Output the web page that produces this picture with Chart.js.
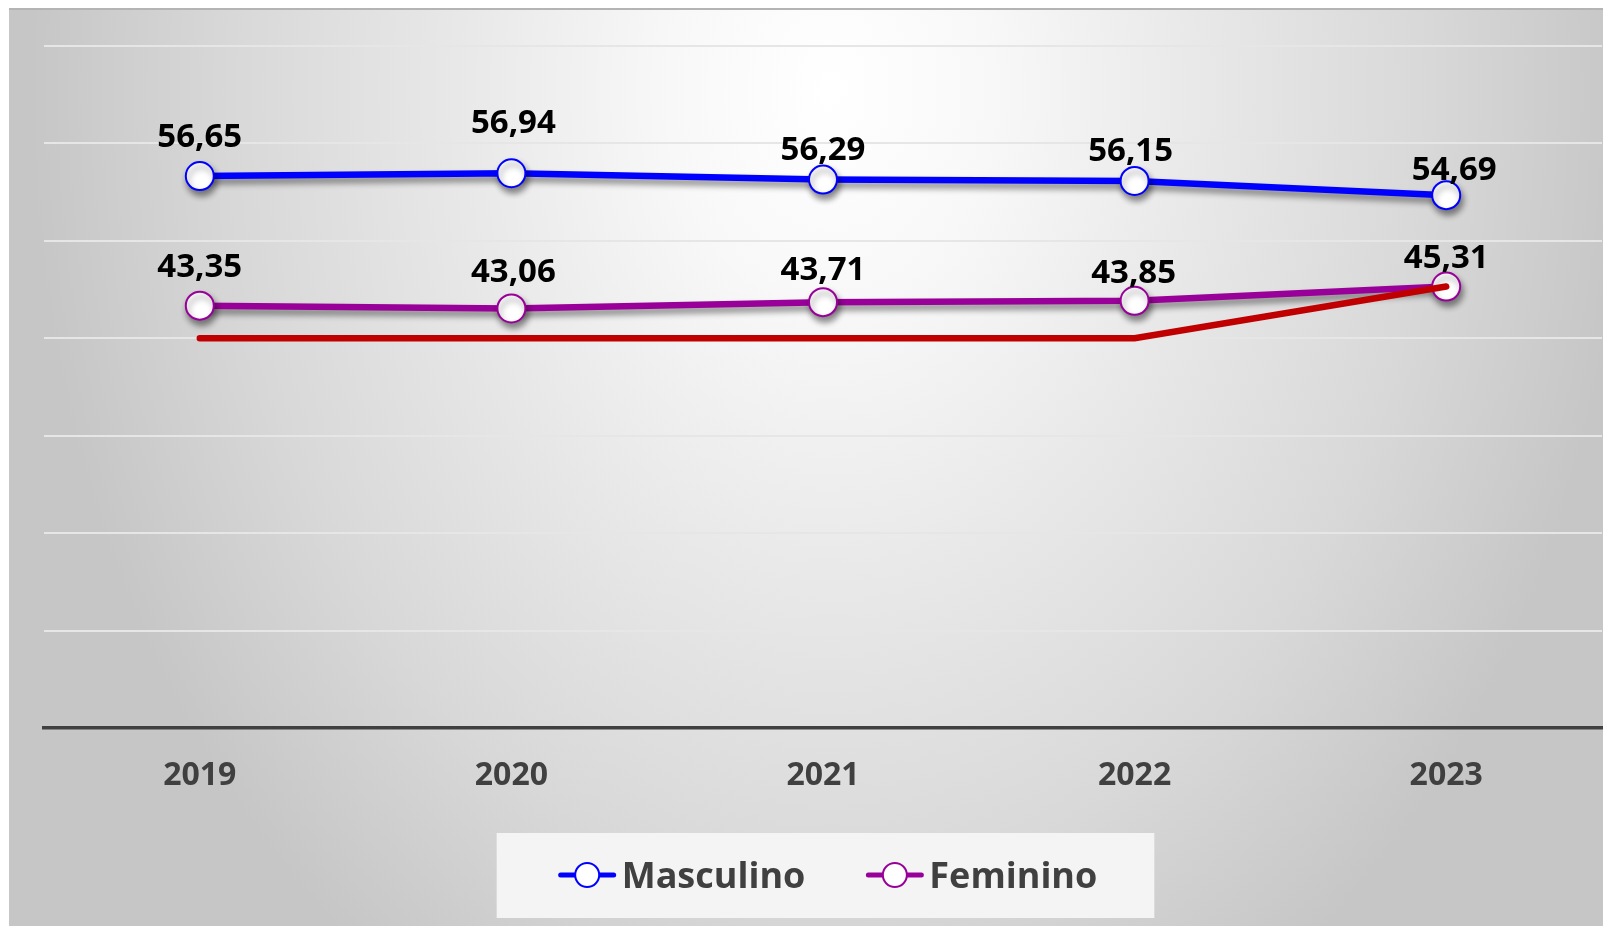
<!DOCTYPE html>
<html>
<head>
<meta charset="utf-8">
<script src="https://cdn.jsdelivr.net/npm/chart.js@4.4.1/dist/chart.umd.min.js"></script>
<style>
  html, body { margin: 0; padding: 0; background: #fff; }
  canvas { display: block; }
</style>
</head>
<body>
<canvas id="grafico" width="1603" height="926"></canvas>
<script>
// dados
const anos = ['2019', '2020', '2021', '2022', '2023'];
const masculino = [56.65, 56.94, 56.29, 56.15, 54.69];
const feminino = [43.35, 43.06, 43.71, 43.85, 45.31];
const linhaVermelha = [40, 40, 40, 40, 45.31];
const escalaY = { min: 0, max: 70, passo: 10 };

const FONTE = '"Open Sans", "Noto Sans", sans-serif';
const fmt = v => v.toFixed(2).replace('.', ',');

// fundo cinza com degrade radial
const fundoPlugin = {
    id: 'fundo',
    beforeDraw(chart) {
        const { ctx, width, height } = chart;
        ctx.save();
        ctx.fillStyle = '#ffffff';
        ctx.fillRect(0, 0, width, height);
        ctx.beginPath();
        ctx.rect(9, 8, width - 9, height - 8);
        ctx.clip();
        const cx = 830, cy = 90, s = 1.333;
        ctx.translate(cx, cy);
        ctx.scale(1, s);
        const g = ctx.createRadialGradient(0, 0, 0, 0, 0, 800);
        g.addColorStop(0, '#ffffff');
        g.addColorStop(0.2, '#f8f8f8');
        g.addColorStop(0.45, '#e9e9e9');
        g.addColorStop(0.75, '#d8d8d8');
        g.addColorStop(1, '#c6c6c6');
        ctx.fillStyle = g;
        ctx.fillRect(9 - cx, (8 - cy) / s, width, height / s);
        ctx.restore();

        ctx.save();
        ctx.strokeStyle = '#b4b4b4';
        ctx.lineWidth = 2;
        ctx.beginPath();
        ctx.moveTo(9, 9);
        ctx.lineTo(width, 9);
        ctx.stroke();
        ctx.restore();
    }
};

// sombra nas linhas
const sombraPlugin = {
    id: 'sombra',
    beforeDatasetDraw(chart, args) {
        const ds = chart.data.datasets[args.index];
        if (!ds.sombra) return;
        const ctx = chart.ctx;
        ctx.save();
        ctx.shadowColor = 'rgba(0, 0, 0, 0.45)';
        ctx.shadowBlur = 6;
        ctx.shadowOffsetX = 2;
        ctx.shadowOffsetY = 5;
    },
    afterDatasetDraw(chart, args) {
        const ds = chart.data.datasets[args.index];
        if (!ds.sombra) return;
        chart.ctx.restore();
    }
};

// rotulos de valores acima dos pontos
const rotulosPlugin = {
    id: 'rotulos',
    afterDatasetsDraw(chart, args, opts) {
        const ctx = chart.ctx;
        ctx.save();
        ctx.font = 'bold 33px ' + FONTE;
        ctx.fillStyle = '#000000';
        ctx.textAlign = 'center';
        ctx.textBaseline = 'alphabetic';
        chart.data.datasets.forEach((ds, i) => {
            if (!ds.rotulos) return;
            const meta = chart.getDatasetMeta(i);
            const lift = opts.lift[ds.label] || [];
            const dx = opts.dx[ds.label] || [];
            meta.data.forEach((pt, j) => {
                const y = pt.y - (lift[j] || 34) + 11.8;
                ctx.fillText(fmt(ds.data[j]), pt.x + (dx[j] || 0), y);
            });
        });
        ctx.restore();
    }
};

// legenda em caixa clara, com linha + marcador
const legendaPlugin = {
    id: 'legendaCaixa',
    afterDraw(chart, args, opts) {
        const ctx = chart.ctx;
        const itens = chart.data.datasets.filter(d => d.label);
        ctx.save();
        ctx.font = 'bold 36px ' + FONTE;
        const simbolo = 57, gapTexto = 6, gapItem = 61;
        const larguras = itens.map(d => simbolo + gapTexto + ctx.measureText(d.label).width);
        const total = larguras.reduce((a, b) => a + b, 0) + gapItem * (itens.length - 1);
        const cx = (chart.chartArea.left + chart.chartArea.right) / 2 + opts.deslocX;
        const cy = chart.chartArea.bottom + opts.deslocY;
        let x = cx - total / 2;

        ctx.fillStyle = '#f4f4f4';
        ctx.fillRect(x - opts.margemEsq, cy - 42, total + opts.margemEsq + opts.margemDir, 85);

        itens.forEach((d, i) => {
            ctx.strokeStyle = d.borderColor;
            ctx.lineWidth = 5;
            ctx.lineCap = 'round';
            ctx.beginPath();
            ctx.moveTo(x + 2, cy);
            ctx.lineTo(x + simbolo - 2, cy);
            ctx.stroke();
            ctx.beginPath();
            ctx.arc(x + simbolo / 2, cy, 12, 0, Math.PI * 2);
            ctx.fillStyle = '#ffffff';
            ctx.fill();
            ctx.lineWidth = 2;
            ctx.stroke();

            ctx.fillStyle = '#404040';
            ctx.textAlign = 'left';
            ctx.textBaseline = 'alphabetic';
            ctx.fillText(d.label, x + simbolo + gapTexto, cy + 13);
            x += larguras[i] + gapItem;
        });
        ctx.restore();
    }
};

const dados = {
    labels: anos,
    datasets: [
        {
            label: 'Masculino',
            data: masculino,
            borderColor: '#0000ff',
            backgroundColor: '#ffffff',
            borderWidth: 6.5,
            pointRadius: 14,
            pointBorderWidth: 2,
            pointBackgroundColor: '#ffffff',
            pointBorderColor: '#0000ff',
            tension: 0,
            order: 1,
            sombra: true,
            rotulos: true
        },
        {
            label: 'Feminino',
            data: feminino,
            borderColor: '#990099',
            backgroundColor: '#ffffff',
            borderWidth: 6.5,
            pointRadius: 14,
            pointBorderWidth: 2,
            pointBackgroundColor: '#ffffff',
            pointBorderColor: '#990099',
            tension: 0,
            order: 1,
            sombra: true,
            rotulos: true
        },
        {
            label: '',
            data: linhaVermelha,
            borderColor: '#c00000',
            borderWidth: 6.5,
            borderCapStyle: 'round',
            pointRadius: 0,
            tension: 0,
            order: 0
        }
    ]
};

const config = {
    type: 'line',
    data: dados,
    options: {
        responsive: false,
        animation: false,
        layout: {
            autoPadding: false,
            padding: { left: 44, right: 1, top: 46, bottom: 101.6 }
        },
        scales: {
            x: {
                offset: true,
                grid: { display: false, drawTicks: false },
                border: { display: true, color: '#404040', width: 3.5 },
                ticks: {
                    padding: 29,
                    color: '#404040',
                    font: { family: FONTE, size: 32, weight: 'bold' }
                }
            },
            y: {
                min: escalaY.min,
                max: escalaY.max,
                grid: {
                    drawTicks: false,
                    lineWidth: 2,
                    color: c => (c.tick && c.tick.value === 0) ? 'rgba(0,0,0,0)' : '#e6e6e6'
                },
                border: { display: false },
                ticks: { display: false, stepSize: escalaY.passo }
            }
        },
        plugins: {
            legend: { display: false },
            tooltip: { enabled: false },
            rotulos: {
                lift: {
                    Masculino: [41, 52, 31, 32, 27],
                    Feminino: [40, 38, 34, 30, 30]
                },
                dx: {
                    Masculino: [0, 2, 0, -4, 8],
                    Feminino: [0, 2, 0, -1, 0]
                }
            },
            legendaCaixa: {
                deslocX: 5,
                deslocY: 147,
                margemEsq: 62,
                margemDir: 57
            }
        }
    },
    plugins: [fundoPlugin, sombraPlugin, rotulosPlugin, legendaPlugin]
};

const grafico = new Chart(document.getElementById('grafico'), config);
</script>
</body>
</html>
